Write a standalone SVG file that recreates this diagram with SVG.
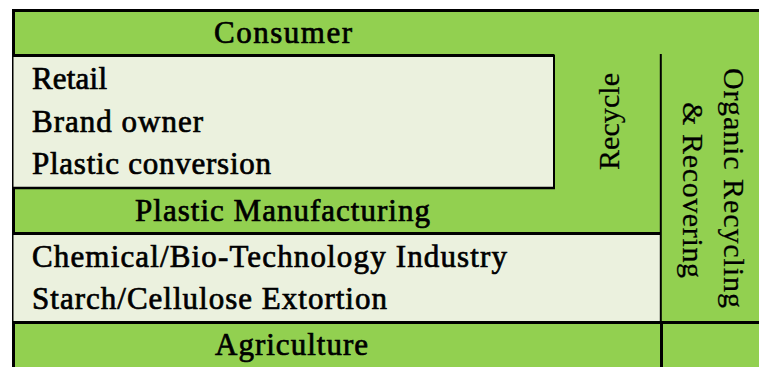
<svg xmlns="http://www.w3.org/2000/svg" width="759" height="367" viewBox="0 0 759 367">
<style>
.green{fill:#92D050;}
.light{fill:#EBF1DE;}
.edge{stroke:#000;fill:none;}
.lbl{font-family:"Liberation Serif","Times New Roman",serif;font-size:31px;fill:#000;stroke:#000;stroke-width:0.7px;}
.rot{font-family:"Liberation Serif","Times New Roman",serif;font-size:30px;fill:#000;stroke:#000;stroke-width:0.25px;}
.mid{text-anchor:middle;}
</style>
<rect x="0" y="0" width="759" height="367" fill="#fff"/>
<g id="frame">
<rect class="green" x="13.5" y="10.5" width="760" height="370"/>
<rect class="edge" x="13.5" y="10.5" width="760" height="370" stroke-width="3"/>
</g>
<g id="consumer">
<text class="lbl mid" x="283" y="43" textLength="138" lengthAdjust="spacing">Consumer</text>
</g>
<g id="consumer-chain">
<rect class="light" x="13.5" y="55.5" width="540.5" height="132.5"/>
<path class="edge" d="M12,55.5 H554.5" stroke-width="3"/>
<path class="edge" d="M554,55 V189" stroke-width="2"/>
<path class="edge" d="M12,188 H555" stroke-width="2.5"/>
<text class="lbl" x="32" y="89" textLength="75" lengthAdjust="spacing">Retail</text>
<text class="lbl" x="32" y="132" textLength="171" lengthAdjust="spacing">Brand owner</text>
<text class="lbl" x="32" y="174" textLength="239" lengthAdjust="spacing">Plastic conversion</text>
</g>
<g id="plastic-manufacturing">
<text class="lbl mid" x="282.5" y="221" textLength="295" lengthAdjust="spacing">Plastic Manufacturing</text>
</g>
<g id="industry">
<rect class="light" x="13.5" y="233.5" width="647" height="88.5"/>
<path class="edge" d="M12,233.5 H661" stroke-width="3"/>
<text class="lbl" x="32" y="267" textLength="475" lengthAdjust="spacing">Chemical/Bio-Technology Industry</text>
<text class="lbl" x="32" y="309" textLength="355" lengthAdjust="spacing">Starch/Cellulose Extortion</text>
</g>
<g id="agriculture">
<text class="lbl mid" x="291.5" y="355" textLength="153" lengthAdjust="spacing">Agriculture</text>
</g>
<g id="recycle">
<text class="rot mid" transform="translate(619,121.5) rotate(-90)" x="0" y="0" textLength="97" lengthAdjust="spacing">Recycle</text>
</g>
<g id="organic-recycling">
<text class="rot mid" transform="translate(724,188) rotate(90)" x="0" y="0" textLength="240" lengthAdjust="spacing">Organic Recycling</text>
<text class="rot mid" transform="translate(683,190) rotate(90)" x="0" y="0" textLength="176" lengthAdjust="spacing">&amp; Recovering</text>
</g>
<g id="dividers">
<path class="edge" d="M660.8,54 V322" stroke-width="2"/>
<path class="edge" d="M661.5,322 V367" stroke-width="3"/>
<path class="edge" d="M12,322.5 H759" stroke-width="3"/>
</g>
</svg>
